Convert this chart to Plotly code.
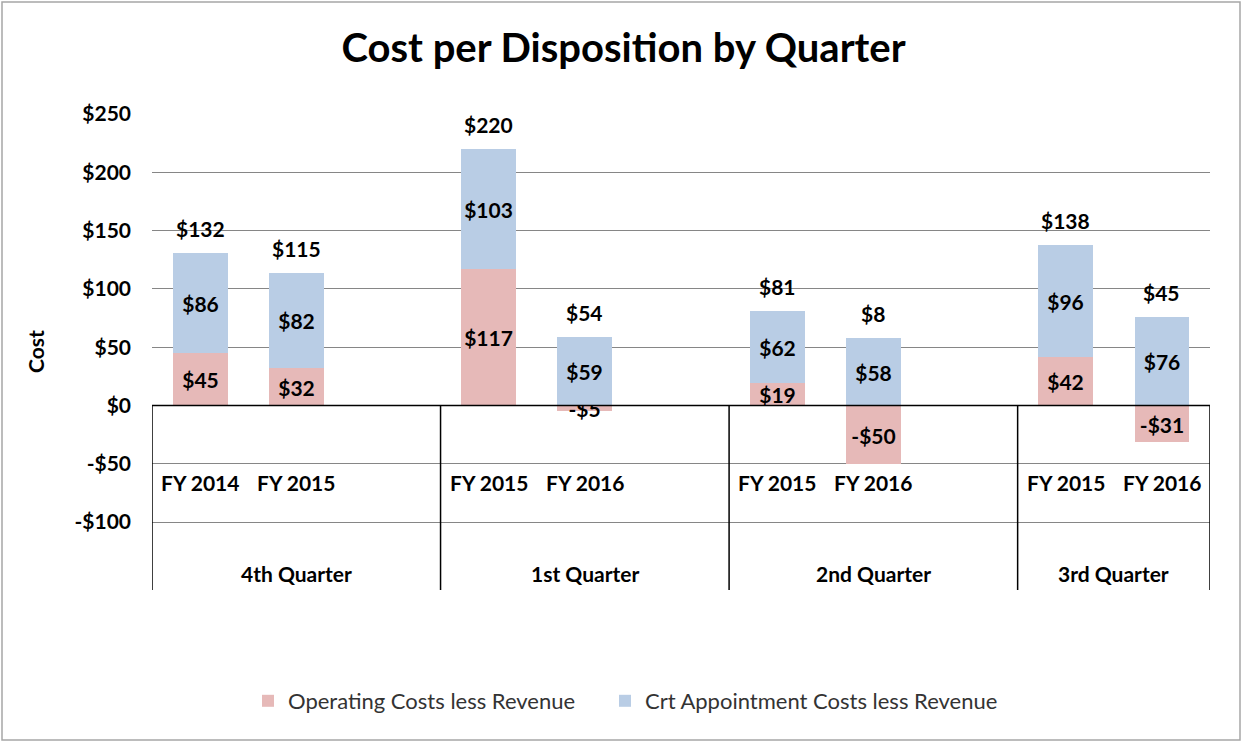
import plotly.graph_objects as go

quarters = ["4th Quarter", "1st Quarter", "2nd Quarter", "3rd Quarter"]
years = [["FY 2014", "FY 2015"], ["FY 2015", "FY 2016"], ["FY 2015", "FY 2016"], ["FY 2015", "FY 2016"]]
operating = [45, 32, 117, -5, 19, -50, 42, -31]
appointment = [86, 82, 103, 59, 62, 58, 96, 76]
totals = [132, 115, 220, 54, 81, 8, 138, 45]
y_ticks = [-100, -50, 0, 50, 100, 150, 200, 250]

FONT = "Lato"
PINK = "#E6B9B8"
BLUE = "#B9CDE5"
LBL = 21

# slot positions: each quarter has 2 bars + an empty gap slot (except last)
xpos, fy_labels, bounds, centers = [], [], [-0.5], []
slot = 0
for gi, (q, ys) in enumerate(zip(quarters, years)):
    start = slot
    for y in ys:
        xpos.append(slot)
        fy_labels.append(y)
        slot += 1
    if gi < len(quarters) - 1:
        slot += 1
    end = slot - 1
    bounds.append(end + 0.5)
    centers.append((start - 0.5 + end + 0.5) / 2)
nslots = slot

def money(v):
    return ("-$" if v < 0 else "$") + str(abs(v))

fig = go.Figure()
fig.add_trace(go.Bar(
    x=xpos, y=operating, name="Operating Costs less Revenue", legend="legend",
    marker=dict(color=PINK, line=dict(width=0)), width=0.57,
    text=[money(v) for v in operating], textposition="inside",
    insidetextanchor="middle", constraintext="none", textangle=0,
    textfont=dict(family=FONT, size=LBL, color="black", weight="bold"),
    hoverinfo="skip"))
fig.add_trace(go.Bar(
    x=xpos, y=appointment, name="Crt Appointment Costs less Revenue", legend="legend2",
    marker=dict(color=BLUE, line=dict(width=0)), width=0.57,
    text=[money(v) for v in appointment], textposition="inside",
    insidetextanchor="middle", constraintext="none", textangle=0,
    textfont=dict(family=FONT, size=LBL, color="black", weight="bold"),
    hoverinfo="skip"))

annotations = []
for x, op, ap, t in zip(xpos, operating, appointment, totals):
    top = max(op, 0) + max(ap, 0)
    annotations.append(dict(x=x, y=top, xref="x", yref="y", text=money(t),
                            showarrow=False, yanchor="bottom", yshift=10,
                            font=dict(family=FONT, size=LBL, color="black", weight="bold")))
for x, lab in zip(xpos, fy_labels):
    annotations.append(dict(x=x, y=-66, xref="x", yref="y", text=lab, showarrow=False,
                            font=dict(family=FONT, size=LBL, color="black", weight="bold")))
for c, q in zip(centers, quarters):
    annotations.append(dict(x=c, y=-144, xref="x", yref="y", text=q, showarrow=False,
                            font=dict(family=FONT, size=LBL, color="black", weight="bold")))
annotations.append(dict(x=(35 - 152) / 1058, y=0.5, xref="paper", yref="paper", text="Cost",
                        showarrow=False, textangle=-90, xanchor="center", yanchor="middle",
                        font=dict(family=FONT, size=LBL, color="black", weight="bold")))

ymin = -158.2
shapes = [dict(type="line", xref="x", yref="y", x0=-0.5, x1=nslots - 0.5, y0=0, y1=0,
               line=dict(color="black", width=1.5), layer="above")]
for b in bounds:
    shapes.append(dict(type="line", xref="x", yref="y", x0=b, x1=b, y0=0, y1=ymin,
                       line=dict(color="black", width=1.5), layer="above"))
# chart-area border
shapes.append(dict(type="rect", xref="paper", yref="paper",
                   x0=(2 - 152) / 1058, x1=(1240 - 152) / 1058,
                   y0=(590 - 740) / 476, y1=(590 - 2) / 476,
                   line=dict(color="#A6A6A6", width=1.5), fillcolor="rgba(0,0,0,0)"))

legend_common = dict(orientation="h", xanchor="left", y=(590 - 701) / 476, yanchor="middle",
                     font=dict(family=FONT, size=22, color="#333333"), itemwidth=30,
                     bgcolor="rgba(0,0,0,0)")

fig.update_layout(
    width=1247, height=743,
    margin=dict(l=152, r=37, t=114, b=153),
    paper_bgcolor="white", plot_bgcolor="white",
    barmode="relative", bargap=0,
    title=dict(text="<b>Cost per Disposition by Quarter</b>", x=0.5, xref="container",
               y=1 - 48 / 743, yref="container", xanchor="center", yanchor="middle",
               font=dict(family=FONT, size=40, color="black")),
    xaxis=dict(range=[-0.5, nslots - 0.5], showticklabels=False, showgrid=False,
               zeroline=False, showline=False, ticks=""),
    yaxis=dict(range=[ymin, 250], tickvals=y_ticks, ticktext=[money(v) for v in y_ticks],
               showgrid=True, gridcolor="#868686", gridwidth=1, zeroline=False,
               showline=False, ticks="", ticklabelstandoff=20,
               tickfont=dict(family=FONT, size=LBL, color="black", weight="bold")),
    legend=dict(x=(248 - 152) / 1058, **legend_common),
    legend2=dict(x=(605 - 152) / 1058, **legend_common),
    annotations=annotations, shapes=shapes,
    showlegend=True,
)

fig.write_html("out.html", config={"displayModeBar": False},
               post_script="document.body.style.margin='0';document.body.style.overflow='hidden';")
